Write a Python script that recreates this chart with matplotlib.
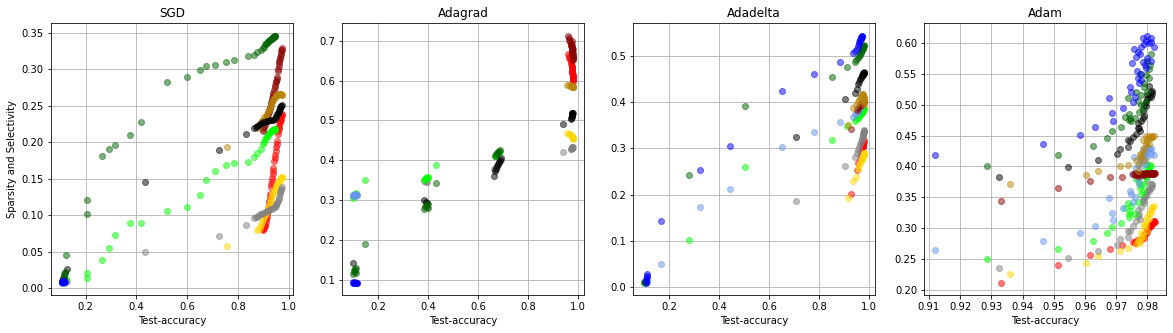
import matplotlib
matplotlib.use("Agg")
import matplotlib.pyplot as plt

# ---------------- SGD ----------------
sgd_blue_acc = [0.106, 0.108, 0.109, 0.110, 0.111, 0.112, 0.113, 0.114, 0.115, 0.116, 0.117, 0.118]
sgd_blue_sp = [0.008, 0.008, 0.009, 0.008, 0.009, 0.010, 0.008, 0.009, 0.010, 0.008, 0.009, 0.008]
sgd_blue_sel = [0.007, 0.008, 0.008, 0.007, 0.008, 0.008, 0.007, 0.008, 0.008, 0.007, 0.008, 0.008]

sgd_green_acc = [0.110, 0.112, 0.114, 0.115, 0.117, 0.119, 0.122, 0.205, 0.205, 0.264, 0.294, 0.317, 0.376, 0.420,
                 0.521, 0.600, 0.652, 0.675, 0.710, 0.752, 0.784, 0.840, 0.862, 0.874, 0.890, 0.900, 0.906, 0.913,
                 0.920, 0.926, 0.932, 0.936, 0.939, 0.942, 0.945,
                 0.903, 0.910, 0.917, 0.923, 0.929, 0.934, 0.938, 0.941, 0.944, 0.946]
sgd_green_sp = [0.010, 0.012, 0.014, 0.016, 0.019, 0.022, 0.045, 0.102, 0.121, 0.181, 0.190, 0.196, 0.210, 0.228,
                0.282, 0.289, 0.299, 0.305, 0.306, 0.310, 0.313, 0.318, 0.320, 0.324, 0.326, 0.329, 0.334, 0.336,
                0.339, 0.340, 0.342, 0.343, 0.344, 0.345, 0.346,
                0.331, 0.335, 0.337, 0.339, 0.341, 0.342, 0.343, 0.344, 0.345, 0.346]
sgd_green_sel = [0.008, 0.009, 0.009, 0.010, 0.010, 0.011, 0.012, 0.014, 0.021, 0.039, 0.055, 0.073, 0.089, 0.089,
                 0.105, 0.111, 0.128, 0.148, 0.160, 0.169, 0.172, 0.173, 0.179, 0.185, 0.190, 0.197, 0.204, 0.208,
                 0.211, 0.214, 0.215, 0.216, 0.217, 0.218, 0.218,
                 0.200, 0.206, 0.209, 0.212, 0.214, 0.215, 0.216, 0.217, 0.217, 0.218]

sgd_black_acc = [0.108, 0.112, 0.118, 0.126, 0.435, 0.727, 0.830, 0.862, 0.875, 0.888, 0.900, 0.914, 0.927, 0.939,
                 0.948, 0.955, 0.960, 0.965, 0.969, 0.973,
                 0.870, 0.882, 0.894, 0.907, 0.920, 0.933, 0.944, 0.951, 0.958, 0.962, 0.967, 0.971]
sgd_black_sp = [0.010, 0.014, 0.020, 0.026, 0.145, 0.189, 0.211, 0.219, 0.222, 0.225, 0.227, 0.229, 0.230, 0.231,
                0.234, 0.238, 0.242, 0.246, 0.249, 0.251,
                0.221, 0.224, 0.226, 0.228, 0.229, 0.231, 0.232, 0.236, 0.240, 0.244, 0.248, 0.250]
sgd_black_sel = [0.007, 0.008, 0.008, 0.009, 0.049, 0.071, 0.087, 0.096, 0.098, 0.101, 0.103, 0.105, 0.108, 0.110,
                 0.113, 0.117, 0.122, 0.129, 0.134, 0.138,
                 0.097, 0.100, 0.102, 0.104, 0.106, 0.109, 0.111, 0.115, 0.119, 0.125, 0.131, 0.136]

sgd_gold_acc = [0.756, 0.877, 0.885, 0.894, 0.904, 0.914, 0.922, 0.929, 0.936, 0.942, 0.948, 0.955, 0.961, 0.966,
                0.970, 0.973,
                0.881, 0.890, 0.899, 0.909, 0.918, 0.925, 0.932, 0.939, 0.945, 0.951, 0.958, 0.964, 0.968, 0.972]
sgd_gold_sp = [0.194, 0.220, 0.224, 0.229, 0.234, 0.238, 0.244, 0.250, 0.255, 0.260, 0.263, 0.265, 0.266, 0.266,
               0.266, 0.265,
               0.222, 0.227, 0.231, 0.236, 0.241, 0.247, 0.252, 0.258, 0.261, 0.264, 0.265, 0.266, 0.266, 0.265]
sgd_gold_sel = [0.058, 0.079, 0.084, 0.090, 0.098, 0.106, 0.113, 0.120, 0.127, 0.133, 0.138, 0.142, 0.146, 0.149,
                0.151, 0.152,
                0.081, 0.087, 0.094, 0.102, 0.110, 0.116, 0.123, 0.130, 0.135, 0.140, 0.144, 0.148, 0.150, 0.152]

sgd_red_acc = [0.898, 0.903, 0.907, 0.912, 0.916, 0.920, 0.924, 0.927, 0.929, 0.933, 0.937, 0.940, 0.943, 0.947,
               0.950, 0.953, 0.956, 0.960, 0.963, 0.966, 0.969, 0.971, 0.973,
               0.900, 0.905, 0.909, 0.914, 0.918, 0.922, 0.926, 0.931, 0.935, 0.939, 0.945, 0.949, 0.952, 0.958,
               0.962, 0.965, 0.968, 0.972]
sgd_red_sp = [0.215, 0.221, 0.227, 0.232, 0.236, 0.240, 0.244, 0.248, 0.252, 0.257, 0.262, 0.267, 0.272, 0.278,
              0.284, 0.290, 0.297, 0.304, 0.311, 0.317, 0.322, 0.326, 0.329,
              0.218, 0.224, 0.230, 0.234, 0.238, 0.242, 0.246, 0.255, 0.260, 0.265, 0.275, 0.282, 0.287, 0.300,
              0.308, 0.314, 0.320, 0.327]
sgd_red_sel = [0.079, 0.083, 0.087, 0.094, 0.101, 0.110, 0.120, 0.129, 0.138, 0.147, 0.156, 0.165, 0.174, 0.183,
               0.193, 0.202, 0.211, 0.218, 0.224, 0.229, 0.233, 0.236, 0.238,
               0.081, 0.085, 0.090, 0.097, 0.105, 0.115, 0.125, 0.142, 0.151, 0.160, 0.178, 0.188, 0.197, 0.215,
               0.221, 0.227, 0.231, 0.237]

# ---------------- Adagrad ----------------
ada_blue_acc = [0.098, 0.100, 0.102, 0.104, 0.106, 0.108, 0.110, 0.112, 0.114, 0.116]
ada_blue_sp = [0.093, 0.094, 0.093, 0.092, 0.093, 0.094, 0.093, 0.092, 0.093, 0.093]
ada_blue_sel = [0.312, 0.314, 0.313, 0.311, 0.315, 0.312, 0.310, 0.314, 0.313, 0.312]

ada_green_acc = [0.100, 0.102, 0.104, 0.106, 0.108, 0.110, 0.112, 0.145, 0.385, 0.388, 0.390, 0.392, 0.395, 0.398,
                 0.400, 0.432, 0.668, 0.672, 0.676, 0.680, 0.683, 0.686]
ada_green_sp = [0.115, 0.120, 0.125, 0.128, 0.122, 0.118, 0.130, 0.189, 0.278, 0.282, 0.285, 0.288, 0.283, 0.290,
                0.280, 0.342, 0.410, 0.415, 0.418, 0.421, 0.424, 0.427]
ada_green_sel = [0.305, 0.310, 0.312, 0.315, 0.316, 0.314, 0.318, 0.350, 0.350, 0.352, 0.355, 0.356, 0.357, 0.358,
                 0.355, 0.387, 0.410, 0.412, 0.415, 0.418, 0.420, 0.422]

ada_black_acc = [0.100, 0.385, 0.390, 0.395, 0.664, 0.668, 0.672, 0.676, 0.680, 0.684, 0.688, 0.690, 0.938, 0.970,
                 0.972, 0.974, 0.975, 0.976, 0.977, 0.978, 0.975, 0.976, 0.977]
ada_black_sp = [0.142, 0.300, 0.296, 0.292, 0.360, 0.372, 0.378, 0.385, 0.390, 0.395, 0.400, 0.405, 0.492, 0.503,
                0.507, 0.510, 0.513, 0.516, 0.518, 0.520, 0.512, 0.517, 0.519]
ada_black_sel = [0.310, 0.348, 0.346, 0.345, 0.377, 0.378, 0.382, 0.386, 0.390, 0.394, 0.398, 0.400, 0.421, 0.428,
                 0.429, 0.430, 0.431, 0.432, 0.433, 0.433, 0.431, 0.432, 0.433]

ada_gold_acc = [0.955, 0.962, 0.967, 0.971, 0.974, 0.976, 0.977, 0.978, 0.979, 0.980, 0.978, 0.979, 0.980]
ada_gold_sp = [0.588, 0.588, 0.587, 0.587, 0.586, 0.586, 0.585, 0.585, 0.584, 0.584, 0.585, 0.586, 0.585]
ada_gold_sel = [0.468, 0.467, 0.466, 0.464, 0.462, 0.460, 0.458, 0.456, 0.455, 0.454, 0.457, 0.456, 0.455]

ada_red_acc = [0.958, 0.962, 0.965, 0.968, 0.970, 0.972, 0.973, 0.974, 0.975, 0.976, 0.977, 0.977, 0.978, 0.978,
               0.979, 0.979, 0.976, 0.977, 0.978, 0.979, 0.979, 0.978, 0.977, 0.976]
ada_red_sp = [0.713, 0.708, 0.703, 0.698, 0.694, 0.690, 0.686, 0.682, 0.678, 0.674, 0.670, 0.666, 0.662, 0.658,
              0.655, 0.652, 0.700, 0.690, 0.680, 0.670, 0.660, 0.665, 0.675, 0.685]
ada_red_sel = [0.667, 0.663, 0.658, 0.654, 0.650, 0.646, 0.642, 0.638, 0.634, 0.630, 0.625, 0.620, 0.615, 0.610,
               0.605, 0.600, 0.620, 0.630, 0.610, 0.605, 0.600, 0.615, 0.625, 0.635]

# ---------------- Adadelta ----------------
add_blue_acc = [0.108, 0.109, 0.110, 0.111, 0.112, 0.113, 0.169, 0.325, 0.444, 0.651, 0.781, 0.886, 0.935, 0.945,
                0.951, 0.955, 0.959, 0.962, 0.965, 0.967, 0.969, 0.971, 0.972, 0.968, 0.970, 0.966, 0.972]
add_blue_sp = [0.008, 0.012, 0.016, 0.020, 0.024, 0.027, 0.143, 0.254, 0.306, 0.424, 0.461, 0.487, 0.507, 0.512,
               0.517, 0.522, 0.527, 0.531, 0.535, 0.538, 0.541, 0.543, 0.545, 0.539, 0.542, 0.536, 0.545]
add_blue_sel = [0.008, 0.009, 0.010, 0.011, 0.012, 0.013, 0.049, 0.174, 0.213, 0.304, 0.336, 0.358, 0.369, 0.374,
                0.378, 0.382, 0.385, 0.388, 0.390, 0.392, 0.394, 0.395, 0.396, 0.393, 0.395, 0.391, 0.397]

add_green_acc = [0.100, 0.103, 0.106, 0.281, 0.504, 0.854, 0.911, 0.944, 0.950, 0.955, 0.960, 0.964, 0.967, 0.970,
                 0.972, 0.974, 0.976, 0.978, 0.980, 0.977, 0.979, 0.975]
add_green_sp = [0.009, 0.010, 0.011, 0.243, 0.392, 0.456, 0.478, 0.488, 0.492, 0.496, 0.500, 0.504, 0.507, 0.510,
                0.513, 0.516, 0.519, 0.522, 0.525, 0.520, 0.523, 0.517]
add_green_sel = [0.008, 0.009, 0.010, 0.102, 0.260, 0.319, 0.348, 0.360, 0.363, 0.366, 0.369, 0.372, 0.374, 0.376,
                 0.378, 0.380, 0.382, 0.385, 0.387, 0.384, 0.386, 0.381]

add_black_acc = [0.709, 0.904, 0.944, 0.952, 0.957, 0.961, 0.965, 0.968, 0.971, 0.973, 0.975, 0.977, 0.978, 0.979,
                 0.980, 0.976, 0.979, 0.980]
add_black_sp = [0.324, 0.407, 0.421, 0.430, 0.440, 0.445, 0.450, 0.454, 0.457, 0.459, 0.461, 0.462, 0.463, 0.464,
                0.465, 0.460, 0.463, 0.466]
add_black_sel = [0.186, 0.261, 0.281, 0.290, 0.297, 0.303, 0.309, 0.314, 0.319, 0.323, 0.327, 0.331, 0.334, 0.337,
                 0.340, 0.330, 0.336, 0.338]

add_gold_acc = [0.918, 0.938, 0.947, 0.955, 0.960, 0.964, 0.968, 0.971, 0.974, 0.976, 0.978, 0.979, 0.980, 0.981,
                0.977, 0.979, 0.980, 0.981]
add_gold_sp = [0.350, 0.389, 0.395, 0.400, 0.405, 0.410, 0.413, 0.416, 0.418, 0.418, 0.416, 0.412, 0.408, 0.404,
               0.415, 0.410, 0.400, 0.395]
add_gold_sel = [0.193, 0.230, 0.239, 0.255, 0.262, 0.268, 0.272, 0.276, 0.279, 0.282, 0.285, 0.287, 0.289, 0.290,
                0.284, 0.288, 0.290, 0.289]

add_red_acc = [0.928, 0.952, 0.958, 0.963, 0.967, 0.970, 0.973, 0.975, 0.977, 0.978, 0.979, 0.980, 0.976, 0.978]
add_red_sp = [0.343, 0.383, 0.388, 0.392, 0.395, 0.397, 0.399, 0.400, 0.401, 0.402, 0.402, 0.403, 0.400, 0.401]
add_red_sel = [0.202, 0.254, 0.268, 0.278, 0.286, 0.292, 0.298, 0.303, 0.308, 0.312, 0.315, 0.318, 0.305, 0.310]

# ---------------- Adam ----------------
adam_blue_acc = [0.912, 0.9464, 0.9585, 0.9633, 0.9678, 0.9687, 0.9690, 0.9722, 0.9743, 0.9748, 0.9754, 0.9759,
                 0.9764, 0.9769, 0.9774, 0.9780, 0.9785, 0.9795, 0.9810, 0.9750, 0.9756, 0.9770, 0.9785, 0.9795,
                 0.9800, 0.9810, 0.9820, 0.9780,
                 0.9775, 0.9790, 0.9800, 0.9805, 0.9765, 0.9780, 0.9792, 0.9812]
adam_blue_sp = [0.419, 0.436, 0.451, 0.464, 0.511, 0.487, 0.474, 0.495, 0.528, 0.520, 0.504, 0.512, 0.577, 0.544,
                0.536, 0.550, 0.569, 0.560, 0.571, 0.568, 0.590, 0.585, 0.609, 0.604, 0.612, 0.609, 0.593, 0.593,
                0.582, 0.598, 0.575, 0.600, 0.555, 0.540, 0.565, 0.602]
adam_blue_sel = [0.264, 0.279, 0.292, 0.303, 0.349, 0.324, 0.313, 0.333, 0.360, 0.355, 0.342, 0.350, 0.398, 0.379,
                 0.371, 0.385, 0.409, 0.404, 0.420, 0.388, 0.415, 0.402, 0.428, 0.425, 0.432, 0.430, 0.418, 0.412,
                 0.410, 0.420, 0.415, 0.430, 0.390, 0.400, 0.418, 0.425]

adam_green_acc = [0.9286, 0.9512, 0.9627, 0.9670, 0.9685, 0.9714, 0.9728, 0.9740, 0.9740, 0.9743, 0.9748, 0.9759,
                  0.9770, 0.9780, 0.9785, 0.9790, 0.9795, 0.9800, 0.9805, 0.9805, 0.9810, 0.9738, 0.9764, 0.9775,
                  0.9790, 0.9800, 0.9808, 0.9780, 0.9772, 0.9795]
adam_green_sp = [0.401, 0.419, 0.433, 0.446, 0.457, 0.464, 0.480, 0.485, 0.475, 0.479, 0.474, 0.479, 0.506, 0.515,
                 0.493, 0.528, 0.506, 0.571, 0.544, 0.558, 0.582, 0.511, 0.520, 0.550,
                 0.535, 0.520, 0.565, 0.500, 0.488, 0.548]
adam_green_sel = [0.250, 0.266, 0.279, 0.292, 0.302, 0.308, 0.332, 0.318, 0.323, 0.328, 0.336, 0.323, 0.342, 0.355,
                  0.360, 0.371, 0.382, 0.404, 0.393, 0.398, 0.400, 0.340, 0.379, 0.365,
                  0.390, 0.395, 0.402, 0.370, 0.375, 0.385]

adam_black_acc = [0.9323, 0.9547, 0.9640, 0.9703, 0.9712, 0.9738, 0.9738, 0.9743, 0.9754, 0.9764, 0.9770, 0.9774,
                  0.9780, 0.9785, 0.9790, 0.9795, 0.9800, 0.9805, 0.9810, 0.9815, 0.9775, 0.9790, 0.9805,
                  0.9800, 0.9810, 0.9785, 0.9770, 0.9795, 0.9815]
adam_black_sp = [0.383, 0.399, 0.411, 0.420, 0.428, 0.431, 0.443, 0.442, 0.447, 0.452, 0.471, 0.463, 0.474, 0.490,
                 0.482, 0.498, 0.509, 0.531, 0.520, 0.517, 0.458, 0.500, 0.512,
                 0.515, 0.512, 0.478, 0.462, 0.505, 0.522]
adam_black_sel = [0.236, 0.251, 0.263, 0.272, 0.282, 0.285, 0.296, 0.296, 0.304, 0.312, 0.320, 0.323, 0.334, 0.344,
                  0.340, 0.355, 0.377, 0.363, 0.371, 0.368, 0.315, 0.350, 0.360,
                  0.360, 0.365, 0.345, 0.330, 0.352, 0.372]

adam_gold_acc = [0.9359, 0.9602, 0.9640, 0.9712, 0.9738, 0.9764, 0.9770, 0.9774, 0.9780, 0.9785, 0.9785, 0.9790,
                 0.9795, 0.9795, 0.9800, 0.9805, 0.9810, 0.9815, 0.9820, 0.9775,
                 0.9800, 0.9810, 0.9790, 0.9780, 0.9815, 0.9805]
adam_gold_sp = [0.371, 0.386, 0.392, 0.400, 0.402, 0.410, 0.393, 0.404, 0.415, 0.425, 0.443, 0.410, 0.436, 0.450,
                0.440, 0.450, 0.446, 0.447, 0.449, 0.420,
                0.445, 0.448, 0.430, 0.418, 0.450, 0.437]
adam_gold_sel = [0.225, 0.244, 0.255, 0.263, 0.268, 0.274, 0.279, 0.280, 0.284, 0.290, 0.285, 0.301, 0.312, 0.305,
                 0.296, 0.323, 0.330, 0.334, 0.336, 0.276,
                 0.318, 0.325, 0.306, 0.292, 0.332, 0.315]

adam_red_acc = [0.9330, 0.9515, 0.9617, 0.9680, 0.9717, 0.9754, 0.9759, 0.9770, 0.9780, 0.9790, 0.9795, 0.9800,
                0.9805, 0.9810, 0.9815, 0.9820, 0.9825, 0.9765, 0.9790, 0.9812,
                0.9800, 0.9810, 0.9820, 0.9785, 0.9775, 0.9815,
                0.9760, 0.9768, 0.9783, 0.9792, 0.9798, 0.9806, 0.9813, 0.9818, 0.9822]
adam_red_sp = [0.344, 0.365, 0.376, 0.382, 0.383, 0.388, 0.386, 0.385, 0.387, 0.388, 0.389, 0.390, 0.388, 0.389,
               0.387, 0.388, 0.389, 0.387, 0.386, 0.390,
               0.389, 0.388, 0.389, 0.387, 0.386, 0.390,
               0.389, 0.387, 0.390, 0.388, 0.390, 0.387, 0.389, 0.388, 0.390]
adam_red_sel = [0.211, 0.240, 0.257, 0.266, 0.272, 0.277, 0.275, 0.279, 0.282, 0.288, 0.292, 0.296, 0.300, 0.304,
                0.308, 0.312, 0.310, 0.280, 0.284, 0.306,
                0.298, 0.305, 0.310, 0.286, 0.281, 0.308,
                0.278, 0.279, 0.284, 0.290, 0.294, 0.302, 0.306, 0.309, 0.311]

titles = ["SGD", "Adagrad", "Adadelta", "Adam"]
pair_colors = {
    "red": ("darkred", "red"),
    "gold": ("darkgoldenrod", "gold"),
    "black": ("black", "gray"),
    "green": ("darkgreen", "lime"),
    "blue": ("blue", "cornflowerblue"),
}

panels = [
    [("red", sgd_red_acc, sgd_red_sp, sgd_red_sel), ("gold", sgd_gold_acc, sgd_gold_sp, sgd_gold_sel),
     ("black", sgd_black_acc, sgd_black_sp, sgd_black_sel), ("green", sgd_green_acc, sgd_green_sp, sgd_green_sel),
     ("blue", sgd_blue_acc, sgd_blue_sp, sgd_blue_sel)],
    [("red", ada_red_acc, ada_red_sp, ada_red_sel), ("gold", ada_gold_acc, ada_gold_sp, ada_gold_sel),
     ("black", ada_black_acc, ada_black_sp, ada_black_sel), ("green", ada_green_acc, ada_green_sp, ada_green_sel),
     ("blue", ada_blue_acc, ada_blue_sp, ada_blue_sel)],
    [("red", add_red_acc, add_red_sp, add_red_sel), ("gold", add_gold_acc, add_gold_sp, add_gold_sel),
     ("black", add_black_acc, add_black_sp, add_black_sel), ("green", add_green_acc, add_green_sp, add_green_sel),
     ("blue", add_blue_acc, add_blue_sp, add_blue_sel)],
    [("red", adam_red_acc, adam_red_sp, adam_red_sel), ("gold", adam_gold_acc, adam_gold_sp, adam_gold_sel),
     ("black", adam_black_acc, adam_black_sp, adam_black_sel),
     ("green", adam_green_acc, adam_green_sp, adam_green_sel),
     ("blue", adam_blue_acc, adam_blue_sp, adam_blue_sel)],
]

fig, axes = plt.subplots(1, 4, figsize=(1173 / 72, 333 / 72), dpi=72)
fig.subplots_adjust(left=0.0432, right=0.9943, top=0.93, bottom=0.1132, wspace=0.202)

for ax, title, series in zip(axes, titles, panels):
    # light (selectivity) series first, dark (sparsity) series on top
    for key, acc, sp, sel in series:
        light = pair_colors[key][1]
        n = min(len(acc), len(sel))
        ax.scatter(acc[:n], sel[:n], color=light, alpha=0.5, s=36)
    for key, acc, sp, sel in series:
        dark = pair_colors[key][0]
        n = min(len(acc), len(sp))
        ax.scatter(acc[:n], sp[:n], color=dark, alpha=0.5, s=36)
    ax.set_title(title)
    ax.set_xlabel("Test-accuracy")
    ax.grid(True)
    ax.set_axisbelow(True)

axes[0].set_ylabel("Sparsity and Selectivity")

fig.savefig("out.png", dpi=72)
